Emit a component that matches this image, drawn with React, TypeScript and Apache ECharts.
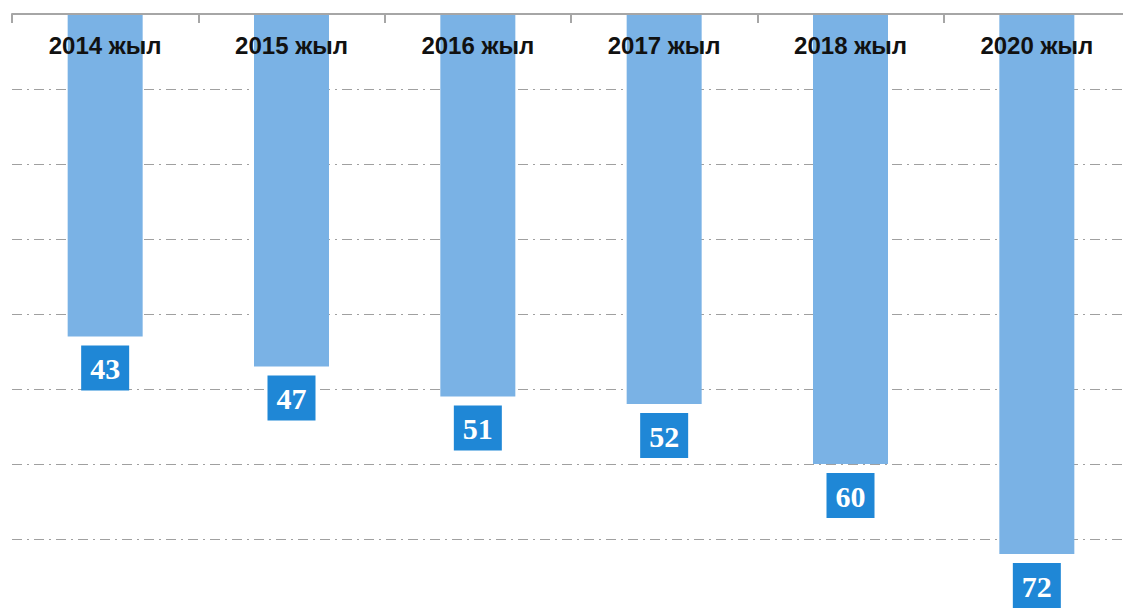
import React, { useEffect, useRef } from "react";
import * as echarts from "echarts";

const categories = ["2014 жыл", "2015 жыл", "2016 жыл", "2017 жыл", "2018 жыл", "2020 жыл"];
const values = [43, 47, 51, 52, 60, 72];

export default function App() {
  const ref = useRef<HTMLDivElement>(null);
  useEffect(() => {
    const chart = echarts.init(ref.current!, null, { renderer: "svg" });
    chart.setOption({
      animation: false,
      backgroundColor: "#ffffff",
      grid: { left: 12, right: 0, top: 14, bottom: 0, containLabel: false },
      xAxis: {
        type: "category",
        data: categories,
        position: "top",
        z: 10,
        axisLine: { show: true, lineStyle: { color: "#a6a6a6", width: 2 } },
        axisTick: { show: true, inside: true, length: 9, lineStyle: { color: "#a6a6a6", width: 2 } },
        axisLabel: {
          inside: true,
          margin: 19,
          color: "#111111",
          fontFamily: "Liberation Sans, Arial, sans-serif",
          fontWeight: "bold",
          fontSize: 24,
        },
        splitLine: { show: false },
      },
      yAxis: {
        type: "value",
        inverse: true,
        min: 0,
        max: 80,
        interval: 10,
        axisLine: { show: false },
        axisTick: { show: false },
        axisLabel: { show: false },
        splitLine: { show: true, lineStyle: { color: "#a0a0a0", width: 1, type: [10, 5, 2, 5] } },
      },
      series: [
        {
          type: "bar",
          data: values,
          barWidth: 75,
          itemStyle: { color: "#7ab2e5" },
          label: {
            show: true,
            position: "bottom",
            distance: 9,
            color: "#ffffff",
            backgroundColor: "#1f87d6",
            padding: [7, 9, 6, 9],
            fontFamily: "Liberation Serif, Times New Roman, serif",
            fontWeight: "bold",
            fontSize: 30,
            lineHeight: 32,
          },
        },
      ],
    });
    return () => chart.dispose();
  }, []);
  return (
    <div style={{ position: "fixed", left: 0, top: 0, width: 1123, height: 609, overflow: "hidden", background: "#fff" }}>
      <div ref={ref} style={{ width: 1130, height: 614 }} />
    </div>
  );
}
